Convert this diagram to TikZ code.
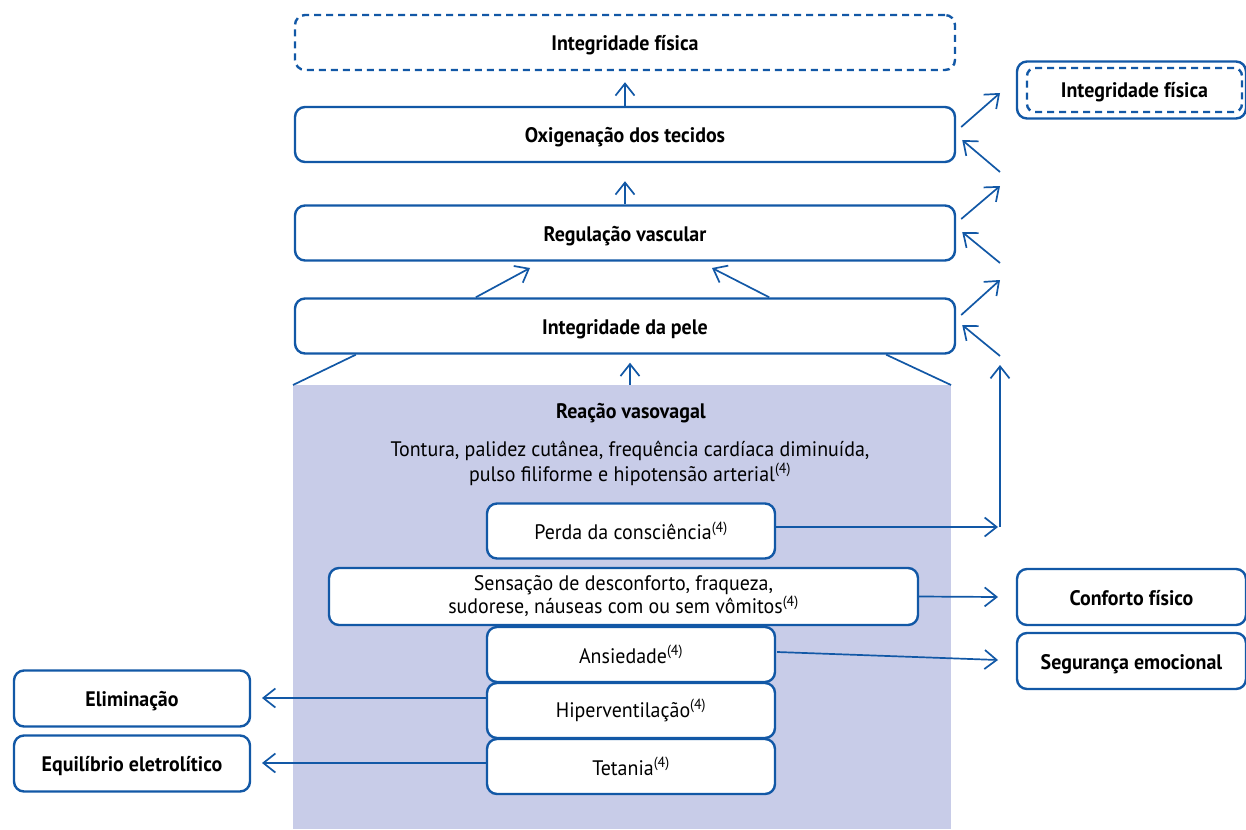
\documentclass[tikz,border=0pt]{standalone}
\usepackage{fontspec}
\setmainfont{PT Sans}[FakeStretch=0.95]
\usetikzlibrary{arrows.meta}
\definecolor{lb}{RGB}{18,88,166}
\definecolor{shade}{RGB}{200,204,232}
\begin{document}
\begin{tikzpicture}[x=1pt,y=-1pt,
  box/.style={draw=lb, line width=2.4pt, rounded corners=10pt, fill=white, inner sep=0pt, align=center,
    font=\fontsize{21}{25}\selectfont},
  bbox/.style={box, font=\fontsize{21}{25}\selectfont\bfseries, text height=20pt, text depth=4pt},
  wide/.style={minimum width=660pt, minimum height=55pt},
  mid/.style={minimum width=288pt, minimum height=55pt},
  side/.style={minimum width=236pt, minimum height=56pt},
  arr/.style={draw=lb, line width=1.7pt, -{Straight Barb[length=12pt,width=19pt,line width=1.7pt]}},
  conn/.style={draw=lb, line width=1.7pt},
  txt/.style={inner sep=0pt, align=center, font=\fontsize{21}{25}\selectfont}]
\useasboundingbox (0,0) rectangle (1246,829);

% shaded region
\node[fill=shade, inner sep=0pt, minimum width=658pt, minimum height=444pt] (vaso) at (622,607) {};

% main column
\node[bbox, wide, dashed, dash pattern=on 7pt off 5pt] (topi) at (625,42.5) {Integridade física};
\node[bbox, wide] (ox) at (625,134.5) {Oxigenação dos tecidos};
\node[bbox, wide] (reg) at (625,233) {Regulação vascular};
\node[bbox, wide] (pele) at (625,326) {Integridade da pele};

\draw[arr] (ox.north) -- ([yshift=-11pt]topi.south);
\draw[arr] (reg.north) -- ([yshift=-18pt]ox.south);

\coordinate (pr1) at (530,268);
\coordinate (pr2) at (712,268);
\draw[arr] ([xshift=182pt]pele.north west) -- (pr1);
\draw[arr] ([xshift=-187pt]pele.north east) -- (pr2);

\coordinate (shl) at (293,385);
\coordinate (shr) at (951,385);
\draw[conn] ([xshift=62pt]pele.south west) -- (shl);
\draw[conn] ([xshift=-70pt]pele.south east) -- (shr);
\draw[arr] ([xshift=8pt]vaso.north) -- ([xshift=5pt,yshift=-8pt]pele.south);

% shaded content
\node[txt, font=\fontsize{21}{25}\selectfont\bfseries] (title) at (631,413) {Reação vasovagal};
\node[txt] (sympt) at (630,463) {Tontura, palidez cutânea, frequência cardíaca diminuída,\\pulso filiforme e hipotensão arterial\textsuperscript{(4)}};

\node[box, mid] (perda) at (631,531) {Perda da consciência\textsuperscript{(4)}};
\node[box, minimum width=589pt, minimum height=57pt, font=\fontsize{21}{23}\selectfont] (sens) at (623.5,596.5) {Sensação de desconforto, fraqueza,\\sudorese, náuseas com ou sem vômitos\textsuperscript{(4)}};
\node[box, mid] (ans) at (631,654.5) {Ansiedade\textsuperscript{(4)}};
\node[box, mid] (hip) at (631,710.5) {Hiperventilação\textsuperscript{(4)}};
\node[box, mid] (tet) at (631,766.5) {Tetania\textsuperscript{(4)}};

% right side
\node[box, minimum width=229pt, minimum height=57pt] (rint) at (1131.5,90) {};
\node[bbox, dashed, dash pattern=on 7pt off 5pt, minimum width=215pt, minimum height=44pt, rounded corners=8pt] (rinti) at (1134.5,90) {Integridade física};
\node[bbox, minimum width=229pt, minimum height=56pt] (conf) at (1131.5,597) {Conforto físico};
\node[bbox, minimum width=229pt, minimum height=56pt] (seg) at (1131.5,661) {Segurança emocional};

% left side
\node[bbox, side] (elim) at (132,698.5) {Eliminação};
\node[bbox, side] (equi) at (132,763.5) {Equilíbrio eletrolítico};

% right arrows
\coordinate (o1) at (1000,93);
\coordinate (o2) at (1000,172);
\coordinate (g1) at (1000,186);
\coordinate (g2) at (1000,263);
\coordinate (p1) at (1000,280);
\coordinate (p2) at (1000,356);
\draw[arr] ([xshift=5pt,yshift=7.5pt]ox.east) -- (o1);
\draw[arr] (o2) -- ([xshift=6pt,yshift=-5.5pt]ox.east);
\draw[arr] ([xshift=5pt,yshift=14pt]reg.east) -- (g1);
\draw[arr] (g2) -- ([xshift=6pt,yshift=1pt]reg.east);
\draw[arr] ([xshift=5pt,yshift=11pt]pele.east) -- (p1);
\draw[arr] (p2) -- ([xshift=6pt,yshift=1pt]pele.east);

\coordinate (vbot) at (1000,527);
\coordinate (vtop) at (1000,365);
\coordinate (vhit) at (998,527);
\draw[arr] ([yshift=4pt]perda.east) -- (vhit);
\draw[arr] (vbot) -- (vtop);

\coordinate (cf) at (998,597);
\coordinate (sg) at (998,660);
\draw[arr] (sens.east) -- (cf);
\draw[arr] ([xshift=1pt,yshift=2.5pt]ans.east) -- (sg);

\coordinate (el) at (262,698);
\coordinate (eq) at (262,763);
\draw[arr] ([yshift=12.5pt]hip.west) -- (el);
\draw[arr] ([yshift=3.5pt]tet.west) -- (eq);
\end{tikzpicture}
\end{document}
